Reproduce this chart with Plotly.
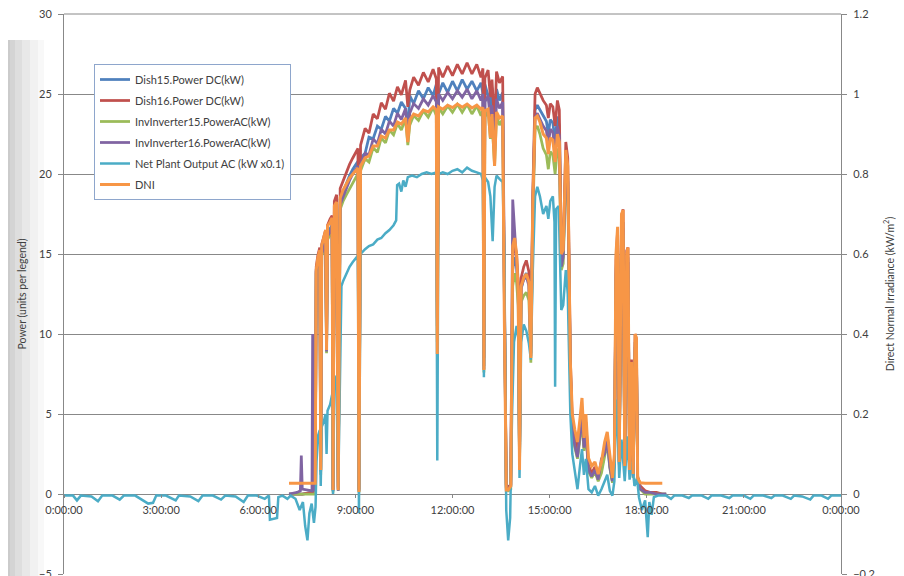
import plotly.graph_objects as go

# ---------------- data ----------------
x_tick_vals = [0, 3, 6, 9, 12, 15, 18, 21, 24]
x_tick_text = ["0:00:00", "3:00:00", "6:00:00", "9:00:00", "12:00:00",
               "15:00:00", "18:00:00", "21:00:00", "0:00:00"]

# shared daytime time base (hours) for the dish / inverter / DNI series
t_day = [6.95, 7.20, 7.30, 7.33, 7.36, 7.66, 7.68, 7.70, 7.76, 7.79,
         7.84, 7.90, 7.93, 7.96, 8.02, 8.08, 8.11, 8.14, 8.22, 8.28,
         8.31, 8.35, 8.42, 8.47, 8.53, 8.62, 8.72, 8.82, 8.92, 9.02,
         9.08, 9.11, 9.16, 9.30, 9.42, 9.55, 9.68, 9.80, 9.93, 10.05,
         10.18, 10.30, 10.42, 10.55, 10.62, 10.68, 10.80, 10.95, 11.10, 11.25,
         11.40, 11.50, 11.53, 11.57, 11.70, 11.85, 12.00, 12.15, 12.30, 12.45,
         12.60, 12.75, 12.88, 12.94, 12.97, 13.00, 13.10, 13.17, 13.22, 13.30,
         13.36, 13.45, 13.55, 13.60, 13.66, 13.72, 13.80, 13.86, 13.92, 13.98,
         14.03, 14.07, 14.12, 14.20, 14.28, 14.36, 14.42, 14.48, 14.55, 14.62,
         14.70, 14.80, 14.90, 14.96, 15.02, 15.10, 15.17, 15.24, 15.30, 15.36,
         15.42, 15.50, 15.56, 15.64, 15.70, 15.78, 15.86, 15.94, 16.00, 16.06,
         16.12, 16.20, 16.30, 16.40, 16.50, 16.60, 16.70, 16.78, 16.86, 16.94,
         17.00, 17.05, 17.10, 17.15, 17.22, 17.27, 17.32, 17.38, 17.42, 17.47,
         17.53, 17.58, 17.64, 17.68, 17.72, 17.80, 17.95, 18.10, 18.30, 18.48,
         18.60]

dish15_dc = [0, 0, 0, 0, 0, 0.1, 0.1, 0.1, 0.1, 14.0,
             14.6, 15.0, 1.5, 15.2, 15.6, 16.0, 9.0, 16.3, 16.6, 16.8,
             0.2, 17.6, 18.0, 0.3, 18.4, 18.9, 19.4, 19.9, 20.3, 20.6,
             20.8, 0.2, 21.0, 21.3, 22.3, 22.2, 23.0, 22.8, 23.6, 23.3,
             24.1, 23.8, 24.5, 24.1, 22.8, 24.9, 24.4, 25.2, 24.7, 25.4,
             24.9, 25.6, 11.0, 25.0, 25.7, 25.1, 25.8, 25.2, 25.9, 25.3,
             25.8, 25.2, 25.7, 25.0, 8.0, 25.6, 24.9, 24.0, 25.4, 22.0,
             25.3, 24.6, 25.1, 13.0, 0.5, 0.3, 0.5, 14.0, 14.8, 14.2,
             12.5, 2.0, 12.8, 13.5, 13.8, 13.2, 8.8, 18.0, 24.0, 24.3,
             24.0, 23.6, 23.3, 22.5, 23.4, 23.2, 22.0, 23.6, 23.0, 14.5,
             15.0, 21.0, 20.0, 8.0, 4.2, 3.2, 2.4, 3.8, 5.0, 3.0,
             4.2, 1.6, 1.2, 1.6, 0.9, 1.5, 2.6, 3.5, 1.8, 0.8,
             2.0, 14.0, 15.8, 2.0, 16.5, 17.0, 1.8, 14.5, 14.8, 1.5,
             8.0, 1.2, 9.5, 9.2, 1.0, 0.4, 0.1, 0.1, 0.0, 0.0,
             0.0]

dish16_dc = [0, 0, 0, 0, 0, 0.1, 0.1, 0.1, 0.1, 14.2,
             14.9, 15.4, 1.6, 15.6, 16.0, 16.5, 9.3, 16.8, 17.2, 17.4,
             0.3, 18.3, 18.7, 0.4, 19.1, 19.6, 20.1, 20.6, 21.0, 21.4,
             21.6, 0.3, 21.8, 22.85, 22.55, 23.75, 23.45, 24.45, 24.05, 25.05,
             24.55, 25.45, 24.95, 25.85, 24.2, 25.25, 26.05, 25.55, 26.35, 25.75,
             26.55, 25.95, 12.0, 26.65, 26.05, 26.75, 26.15, 26.85, 26.25, 26.95,
             26.25, 26.85, 26.05, 26.6, 8.5, 26.0, 26.5, 24.8, 25.9, 23.0,
             26.4, 25.7, 26.1, 14.0, 0.6, 0.4, 0.6, 14.8, 15.6, 15.0,
             13.2, 2.2, 13.5, 14.2, 14.6, 13.9, 9.2, 18.8, 25.0, 25.4,
             25.0, 24.6, 24.3, 23.5, 24.4, 24.2, 23.0, 24.6, 24.0, 15.0,
             15.5, 22.0, 21.0, 8.5, 4.5, 3.5, 2.6, 4.0, 5.3, 3.2,
             4.5, 1.8, 1.3, 1.7, 1.0, 1.6, 2.8, 3.7, 2.0, 0.9,
             2.2, 14.6, 16.5, 2.1, 17.2, 17.8, 1.9, 15.2, 15.4, 1.6,
             8.4, 1.3, 10.0, 9.7, 1.1, 0.5, 0.2, 0.1, 0.1, 0.0,
             0.0]

inv15_ac = [0, 0, 0, 0, 0, 0, 0, 0, 0, 13.8,
            14.3, 14.6, 1.2, 14.9, 15.2, 15.6, 8.8, 15.9, 16.2, 16.4,
            0.1, 17.2, 17.5, 0.2, 17.8, 18.3, 18.7, 19.1, 19.5, 19.8,
            20.0, 0.1, 20.2, 20.95, 20.75, 21.65, 21.35, 22.25, 21.95, 22.75,
            22.45, 23.15, 22.75, 23.45, 21.8, 23.05, 23.65, 23.35, 23.95, 23.55,
            24.15, 23.65, 9.5, 24.15, 23.75, 24.25, 23.85, 24.35, 23.85, 24.35,
            23.75, 24.25, 23.65, 24.05, 7.6, 23.55, 23.95, 22.2, 23.35, 20.5,
            23.65, 23.05, 23.45, 12.0, 0.3, 0.2, 0.3, 13.0, 13.8, 13.2,
            11.8, 1.6, 12.0, 12.4, 12.6, 12.1, 8.2, 17.0, 22.8, 23.0,
            22.5, 21.6, 21.2, 20.3, 21.4, 21.2, 20.0, 21.6, 21.0, 14.0,
            14.4, 19.8, 19.0, 7.4, 3.8, 2.9, 2.2, 3.5, 4.6, 2.7,
            3.9, 1.4, 1.0, 1.4, 0.8, 1.3, 2.3, 3.2, 1.6, 0.7,
            1.8, 13.2, 15.0, 1.8, 15.8, 16.2, 1.6, 13.8, 14.0, 1.3,
            7.5, 1.0, 9.0, 8.8, 0.8, 0.3, 0.0, 0.0, 0.0, 0.0,
            0.0]

inv16_ac = [0, 0.1, 0.2, 2.4, 0.3, 0.2, 10.0, 0.3, 0.2, 13.9,
            14.5, 14.8, 1.4, 15.0, 15.4, 15.8, 8.9, 16.1, 16.4, 16.5,
            0.2, 17.4, 17.8, 0.2, 18.1, 18.6, 19.1, 19.6, 20.0, 20.3,
            20.5, 0.2, 20.6, 21.3, 21.2, 22.2, 21.9, 22.8, 22.5, 23.3,
            23.0, 23.8, 23.4, 24.1, 22.3, 23.8, 24.4, 24.1, 24.7, 24.3,
            24.9, 24.5, 10.5, 25.0, 24.6, 25.1, 24.7, 25.2, 24.8, 25.3,
            24.7, 25.2, 24.6, 25.0, 7.8, 24.5, 24.9, 23.3, 24.3, 21.3,
            24.7, 24.1, 24.5, 12.5, 0.4, 0.3, 0.5, 18.4, 16.5, 15.0,
            12.8, 1.8, 12.9, 13.4, 13.6, 13.0, 8.6, 17.8, 23.5, 23.8,
            23.4, 23.0, 22.7, 21.8, 22.8, 22.6, 21.4, 23.0, 22.4, 14.2,
            14.8, 20.5, 19.5, 7.8, 4.0, 3.0, 2.3, 3.6, 4.8, 2.9,
            4.0, 1.5, 1.1, 1.5, 0.9, 2.2, 2.5, 3.4, 1.7, 0.8,
            1.9, 13.6, 15.4, 1.9, 16.2, 16.6, 1.7, 14.2, 14.5, 1.4,
            7.8, 1.1, 9.2, 9.0, 0.9, 0.3, 0.1, 0.1, 0.0, 0.0,
            0.0]

dni = [0.027, 0.027, 0.028, 0.027, 0.027, 0.027, 0.028, 0.027, 0.027, 0.56,
       0.59, 0.61, 0.06, 0.62, 0.64, 0.66, 0.36, 0.67, 0.68, 0.69,
       0.01, 0.72, 0.73, 0.01, 0.74, 0.76, 0.775, 0.79, 0.80, 0.81,
       0.815, 0.005, 0.82, 0.84, 0.845, 0.87, 0.87, 0.895, 0.89, 0.91,
       0.91, 0.93, 0.925, 0.94, 0.88, 0.935, 0.95, 0.945, 0.96, 0.955,
       0.968, 0.96, 0.35, 0.968, 0.962, 0.972, 0.966, 0.975, 0.967, 0.975,
       0.965, 0.972, 0.962, 0.966, 0.31, 0.958, 0.962, 0.89, 0.95, 0.82,
       0.955, 0.94, 0.945, 0.45, 0.01, 0.01, 0.02, 0.62, 0.64, 0.60,
       0.50, 0.06, 0.52, 0.54, 0.55, 0.53, 0.34, 0.72, 0.94, 0.945,
       0.93, 0.90, 0.89, 0.85, 0.89, 0.885, 0.83, 0.90, 0.88, 0.60,
       0.61, 0.86, 0.82, 0.33, 0.20, 0.16, 0.13, 0.19, 0.24, 0.14,
       0.20, 0.09, 0.07, 0.08, 0.05, 0.08, 0.13, 0.155, 0.09, 0.04,
       0.10, 0.60, 0.668, 0.08, 0.70, 0.71, 0.07, 0.60, 0.616, 0.06,
       0.33, 0.05, 0.40, 0.39, 0.04, 0.028, 0.027, 0.027, 0.027, 0.027,
       None]

# net plant output (kW x 0.1) over the whole day
t_net = [0.00, 0.28, 0.40, 0.52, 0.85, 1.05, 1.18, 1.50, 1.72, 1.85,
         2.20, 2.60, 2.75, 2.85, 3.15, 3.45, 3.55, 3.90, 4.15, 4.28,
         4.60, 4.85, 4.98, 5.30, 5.55, 5.68, 5.95, 6.20, 6.33, 6.36,
         6.58, 6.62, 6.75, 6.90, 7.00, 7.15, 7.28, 7.38, 7.45, 7.52,
         7.58, 7.65, 7.72, 7.77, 7.80, 7.84, 7.90, 7.93, 7.96, 8.02,
         8.08, 8.11, 8.14, 8.22, 8.28, 8.31, 8.35, 8.42, 8.47, 8.53,
         8.57, 8.62, 8.72, 8.82, 8.92, 9.02, 9.08, 9.11, 9.16, 9.30,
         9.42, 9.55, 9.68, 9.80, 9.93, 10.05, 10.18, 10.26, 10.29, 10.35,
         10.42, 10.48, 10.55, 10.62, 10.75, 10.90, 11.05, 11.20, 11.35, 11.50,
         11.53, 11.57, 11.70, 11.85, 12.00, 12.15, 12.30, 12.45, 12.60, 12.75,
         12.88, 12.94, 12.97, 13.00, 13.10, 13.17, 13.24, 13.30, 13.36, 13.45,
         13.55, 13.60, 13.66, 13.72, 13.78, 13.84, 13.90, 13.98, 14.03, 14.07,
         14.12, 14.20, 14.28, 14.36, 14.42, 14.48, 14.55, 14.62, 14.70, 14.80,
         14.90, 14.96, 15.02, 15.10, 15.15, 15.17, 15.20, 15.28, 15.36, 15.42,
         15.50, 15.56, 15.64, 15.70, 15.78, 15.86, 15.94, 16.00, 16.06, 16.12,
         16.20, 16.30, 16.40, 16.50, 16.60, 16.70, 16.78, 16.86, 16.94, 17.00,
         17.05, 17.10, 17.15, 17.22, 17.27, 17.32, 17.40, 17.47, 17.55, 17.62,
         17.70, 17.76, 17.85, 17.95, 18.03, 18.08, 18.15, 18.22, 18.35, 18.60,
         18.75, 18.85, 19.10, 19.30, 19.40, 19.70, 19.90, 20.00, 20.30, 20.55,
         20.65, 21.00, 21.20, 21.30, 21.60, 21.85, 21.95, 22.20, 22.45, 22.55,
         22.80, 23.05, 23.15, 23.40, 23.60, 23.70, 24.00]

net_output = [-0.1, -0.1, -0.4, -0.1, -0.15, -0.45, -0.1, -0.1, -0.35, -0.1,
              -0.1, -0.6, -0.55, -0.1, -0.1, -0.4, -0.1, -0.15, -0.45, -0.1,
              -0.1, -0.35, -0.1, -0.15, -0.5, -0.1, -0.1, -0.3, -0.1, -1.6,
              -1.5, -0.2, -0.1, -0.3, -0.1, -0.3, -1.0, -0.5, -2.0, -2.9,
              -1.2, -0.6, -1.8, -0.8, 2.0, 3.6, 4.0, 0.5, 4.2, 4.5,
              5.0, 2.5, 5.2, 5.6, 6.2, 0.0, 6.8, 7.4, 0.3, 7.8,
              13.0, 13.3, 13.8, 14.2, 14.5, 14.8, 14.9, -1.2, 15.0, 15.3,
              15.5, 15.6, 15.9, 16.0, 16.3, 16.5, 16.8, 17.1, 19.3, 19.4,
              18.9, 19.6, 19.2, 19.8, 19.9, 19.8, 20.0, 20.1, 20.0, 20.1,
              2.1, 20.0, 20.1, 20.0, 20.2, 20.3, 20.1, 20.4, 20.2, 20.1,
              20.0, 19.6, 7.3, 19.8, 19.5, 18.6, 15.8, 19.2, 19.9, 19.7,
              19.5, 15.0, -1.0, -2.9, -1.5, 5.0, 9.5, 10.5, 9.8, 1.0,
              9.5, 10.6, 10.2, 9.4, 8.4, 14.0, 18.6, 19.2, 18.6, 17.5,
              18.0, 17.2, 18.3, 18.6, 17.0, 6.7, 17.8, 18.0, 11.5, 11.8,
              14.0, 12.5, 5.0, 2.5, 1.5, 0.3, 1.8, 2.8, 1.2, 2.2,
              0.3, 0.1, 0.5, -0.1, 0.3, 0.8, 1.2, 0.2, -0.1, 0.8,
              5.9, 4.0, 1.0, 3.4, 2.0, 0.8, 3.6, 0.9, 2.0, 0.5,
              1.0, -0.2, -1.0, -0.4, -2.7, -0.5, -1.3, -0.2, -0.1, -0.1,
              -0.3, -0.1, -0.1, -0.25, -0.1, -0.1, -0.3, -0.1, -0.1, -0.25,
              -0.1, -0.1, -0.3, -0.1, -0.1, -0.25, -0.1, -0.1, -0.3, -0.1,
              -0.15, -0.35, -0.1, -0.1, -0.3, -0.1, -0.1]

for arr in (dish15_dc, dish16_dc, inv15_ac, inv16_ac, dni):
    assert len(arr) == len(t_day), len(arr)
assert len(net_output) == len(t_net), (len(net_output), len(t_net))

# ---------------- figure ----------------
FONT = "Lato, 'Open Sans', sans-serif"
TXT = "#404040"
GRID = "#888888"

fig = go.Figure()
power_series = [
    ("Dish15.Power DC(kW)", dish15_dc, "#4F81BD"),
    ("Dish16.Power DC(kW)", dish16_dc, "#C0504D"),
    ("InvInverter15.PowerAC(kW)", inv15_ac, "#9BBB59"),
    ("InvInverter16.PowerAC(kW)", inv16_ac, "#8064A2"),
]
for name, vals, color in power_series:
    fig.add_trace(go.Scatter(x=t_day, y=vals, mode="lines", name=name,
                             legendgroup=name,
                             line=dict(color=color, width=2.75)))
fig.add_trace(go.Scatter(x=t_net, y=net_output, mode="lines",
                         name="Net Plant Output AC (kW x0.1)",
                         legendgroup="net",
                         line=dict(color="#4BACC6", width=2.5)))
fig.add_trace(go.Scatter(x=t_day, y=dni, mode="lines", name="DNI",
                         legendgroup="dni", yaxis="y2", connectgaps=False,
                         line=dict(color="#F79646", width=3)))

# light grey slide gradient on the far left edge
strips = [(0, 5, "#c4c4c4"), (5, 10, "#cbcbcb"), (10, 15, "#d4d4d4"),
          (15, 22, "#dedede"), (22, 30, "#e8e8e8"), (30, 38, "#f1f1f1"),
          (38, 44, "#f8f8f8")]
shapes = []
for x0, x1, c in strips:
    shapes.append(dict(type="rect", xref="paper", yref="paper",
                       x0=(x0 - 64) / 777, x1=(x1 - 64) / 777,
                       y0=-0.02, y1=(574 - 40) / 560,
                       fillcolor=c, line=dict(width=0), layer="below"))
# top border gridline of the plot area
shapes.append(dict(type="line", xref="paper", yref="paper", x0=0, x1=1,
                   y0=1, y1=1, line=dict(color=GRID, width=1), layer="below"))

# page body has an 8px margin: figure is 896x568, plot area 64..841 x 14..574 on screen
fig.update_layout(
    width=896, height=568,
    margin=dict(l=56, r=63, t=6, b=2),
    paper_bgcolor="white", plot_bgcolor="white",
    font=dict(family=FONT, size=11, color=TXT),
    shapes=shapes,
    showlegend=True,
    legend=dict(x=(94 - 64) / 777, y=(574 - 64) / 560, xanchor="left", yanchor="top",
                bgcolor="white", bordercolor="#8ea6cc", borderwidth=1,
                font=dict(family=FONT, size=11, color=TXT),
                tracegroupgap=2, itemwidth=30, traceorder="grouped"),
    xaxis=dict(range=[0, 24], tickvals=x_tick_vals, ticktext=x_tick_text,
               anchor="free", position=1 / 7, showgrid=False, zeroline=False,
               showline=False, ticks="outside", ticklen=3, tickcolor=GRID,
               ticklabelstandoff=3, ticklabeloverflow="allow",
               tickfont=dict(size=11, color=TXT), automargin=False),
    yaxis=dict(range=[-5, 30], dtick=5, tick0=0, showgrid=True,
               gridcolor=GRID, gridwidth=1, zeroline=False,
               showline=True, linecolor=GRID, ticks="outside", ticklen=5,
               tickcolor=GRID, tickfont=dict(size=11, color=TXT),
               ticklabelstandoff=4, ticklabeloverflow="allow", automargin=False,
               title=dict(text="Power (units per legend)", standoff=10,
                          font=dict(size=10.5, color=TXT))),
    yaxis2=dict(range=[-0.2, 1.2], dtick=0.2, tick0=0, overlaying="y",
                side="right", showgrid=False, zeroline=False,
                showline=True, linecolor=GRID, ticks="outside", ticklen=5,
                tickcolor=GRID, tickfont=dict(size=11, color=TXT),
                ticklabelstandoff=4, ticklabeloverflow="allow", automargin=False,
                title=dict(text="Direct Normal Irradiance (kW/m<sup>2</sup>)",
                           standoff=12, font=dict(size=10.5, color=TXT))),
)

fig.write_html("out.html")
